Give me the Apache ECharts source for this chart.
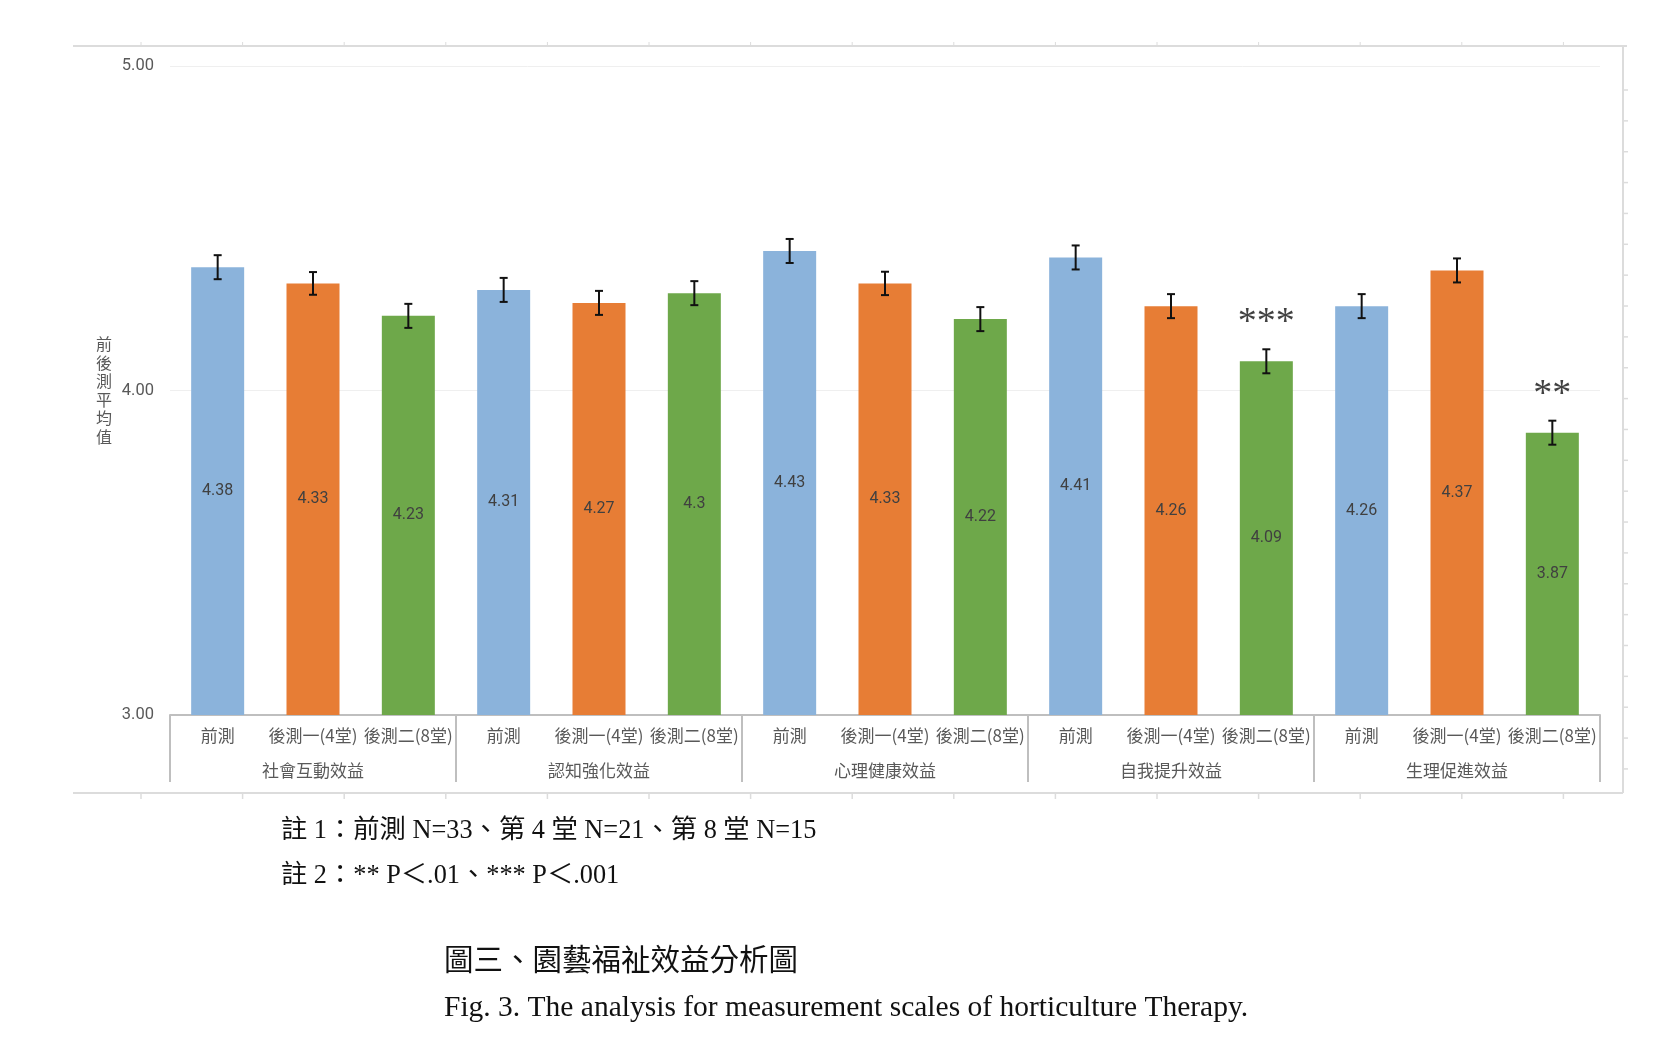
<!DOCTYPE html>
<html>
<head>
<meta charset="UTF-8">
<title>園藝福祉效益分析圖</title>
<style>
  html, body { margin: 0; padding: 0; background: #fff; }
  #main { width: 1670px; height: 1062px; }
</style>
</head>
<body>
<div id="main"></div>
<script src="https://cdn.jsdelivr.net/npm/echarts/dist/echarts.min.js"></script>
<script>
// 構面與測驗時間
var groups = ['社會互動效益', '認知強化效益', '心理健康效益', '自我提升效益', '生理促進效益'];
var phases = ['前測', '後測一(4堂)', '後測二(8堂)'];
// 平均值 (依構面, 每構面三次)
var means = [4.38, 4.33, 4.23, 4.31, 4.27, 4.3, 4.43, 4.33, 4.22, 4.41, 4.26, 4.09, 4.26, 4.37, 3.87];
// 誤差線 (約略讀取)
var errs = [0.037, 0.035, 0.037, 0.037, 0.037, 0.037, 0.037, 0.036, 0.037, 0.037, 0.037, 0.037, 0.037, 0.037, 0.037];
// 顯著性標記
var stars = ['', '', '', '', '', '', '', '', '', '', '', '***', '', '', '**'];
var yTicks = [3, 4, 5];
var colors = ['#8BB3DB', '#E77D35', '#6EA84A'];

var cats = [];
groups.forEach(function () { phases.forEach(function (p) { cats.push(p); }); });

var barData = means.map(function (v, i) {
  return { value: v, itemStyle: { color: colors[i % 3] } };
});
var errData = means.map(function (v, i) { return [i, v - errs[i], v + errs[i]]; });
var starData = means.map(function (v, i) { return [i, v + errs[i]]; });

var cjk = '"Noto Sans CJK TC", "Noto Sans", sans-serif';
var serif = '"Liberation Serif", "Noto Sans CJK TC", serif';

// 外框裝飾
var frame = [];
var gray = '#DCDCDC';
frame.push({ type: 'line', shape: { x1: 73, y1: 46, x2: 1627, y2: 46 }, style: { stroke: gray, lineWidth: 2 } });
frame.push({ type: 'line', shape: { x1: 73, y1: 793, x2: 1623, y2: 793 }, style: { stroke: gray, lineWidth: 2 } });
frame.push({ type: 'line', shape: { x1: 1623, y1: 46, x2: 1623, y2: 793 }, style: { stroke: gray, lineWidth: 2 } });
for (var k = 0; k < 15; k++) {
  var tx = 141 + k * 101.6;
  frame.push({ type: 'line', shape: { x1: tx, y1: 793, x2: tx, y2: 799 }, style: { stroke: gray, lineWidth: 1.5 } });
  frame.push({ type: 'line', shape: { x1: tx, y1: 42, x2: tx, y2: 46 }, style: { stroke: gray, lineWidth: 1 } });
}
for (var j = 0; j < 23; j++) {
  var ty = 90 + j * 30.86;
  frame.push({ type: 'line', shape: { x1: 1623, y1: ty, x2: 1628, y2: ty }, style: { stroke: gray, lineWidth: 1.5 } });
}

var myChart = echarts.init(document.getElementById('main'));
var option = {
  backgroundColor: '#fff',
  animation: false,
  title: [
    { text: '註 1：前測 N=33、第 4 堂 N=21、第 8 堂 N=15', left: 276, top: 813,
      textStyle: { fontFamily: serif, fontSize: 26.3, fontWeight: 'normal', color: '#111' } },
    { text: '註 2：** P＜.01、*** P＜.001', left: 276, top: 858,
      textStyle: { fontFamily: serif, fontSize: 26.3, fontWeight: 'normal', color: '#111' } },
    { text: '圖三、園藝福祉效益分析圖', left: 439, top: 942,
      textStyle: { fontFamily: serif, fontSize: 29.5, fontWeight: 'normal', color: '#111' } },
    { text: 'Fig. 3. The analysis for measurement scales of horticulture Therapy.', left: 439, top: 988,
      textStyle: { fontFamily: serif, fontSize: 29.5, fontWeight: 'normal', color: '#111' } }
  ],
  grid: { left: 170, right: 70, top: 66, bottom: 347 },
  xAxis: [
    {
      type: 'category', data: cats, position: 'bottom',
      axisLine: { lineStyle: { color: '#BFBFBF', width: 2 } },
      axisTick: { show: false },
      axisLabel: { interval: 0, margin: 12, fontSize: 17, color: '#595959', fontFamily: cjk }
    },
    {
      type: 'category', data: groups, position: 'bottom',
      axisLine: { show: false },
      axisTick: { show: true, length: 67, interval: 0, lineStyle: { color: '#BFBFBF', width: 2 } },
      axisLabel: { interval: 0, margin: 47, fontSize: 17, color: '#595959', fontFamily: cjk }
    }
  ],
  yAxis: {
    type: 'value', min: yTicks[0], max: yTicks[yTicks.length - 1], interval: 1,
    name: '前\n後\n測\n平\n均\n值', nameLocation: 'middle', nameRotate: 0, nameGap: 58,
    nameTextStyle: { fontSize: 16, lineHeight: 18.6, color: '#595959', fontFamily: cjk },
    axisLine: { show: false }, axisTick: { show: false },
    axisLabel: { margin: 16, fontSize: 16.5, color: '#595959', fontFamily: 'Roboto, "Open Sans", sans-serif',
      formatter: function (v) { return v.toFixed(2); } },
    splitLine: { lineStyle: { color: '#EFEFEF', width: 1 } }
  },
  series: [
    {
      type: 'bar', data: barData, barWidth: 53, xAxisIndex: 0,
      label: { show: true, position: 'inside', fontSize: 16, color: '#404040', fontFamily: 'Roboto, sans-serif' }
    },
    {
      type: 'custom', xAxisIndex: 0, data: errData, z: 5,
      encode: { x: 0, y: [1, 2] },
      renderItem: function (params, api) {
        var lo = api.coord([api.value(0), api.value(1)]);
        var hi = api.coord([api.value(0), api.value(2)]);
        var w = 4;
        var st = { stroke: '#111', lineWidth: 2 };
        return {
          type: 'group',
          children: [
            { type: 'line', shape: { x1: hi[0], y1: hi[1], x2: lo[0], y2: lo[1] }, style: st },
            { type: 'line', shape: { x1: hi[0] - w, y1: hi[1], x2: hi[0] + w, y2: hi[1] }, style: st },
            { type: 'line', shape: { x1: lo[0] - w, y1: lo[1], x2: lo[0] + w, y2: lo[1] }, style: st }
          ]
        };
      }
    },
    {
      type: 'scatter', xAxisIndex: 0, data: starData, symbolSize: 0, z: 6,
      label: {
        show: true, position: 'top', distance: 7,
        fontSize: 38, color: '#111', fontFamily: serif,
        formatter: function (p) { return stars[p.dataIndex]; }
      }
    }
  ],
  graphic: frame
};
myChart.setOption(option);
</script>
</body>
</html>
